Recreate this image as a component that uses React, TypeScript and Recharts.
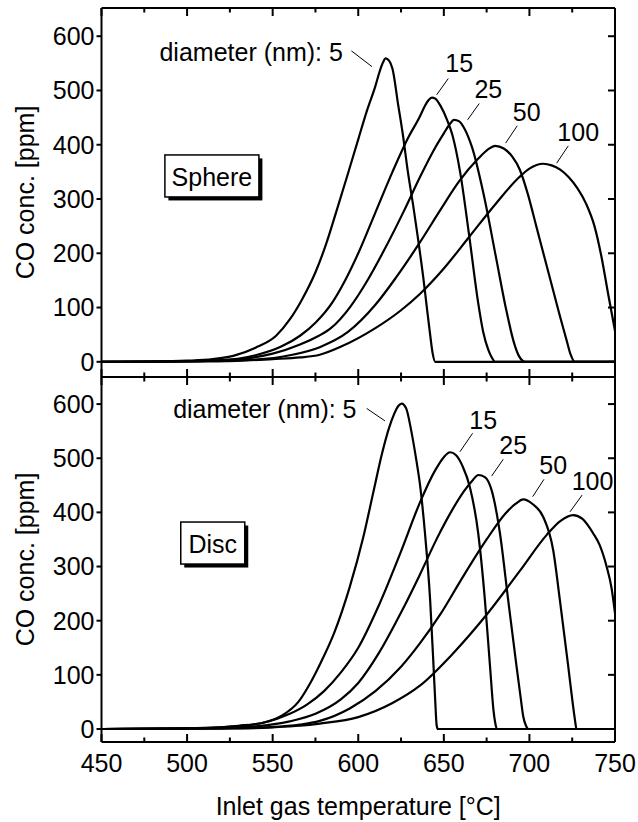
import { LineChart, Line, XAxis, YAxis, ReferenceDot, ReferenceLine } from 'recharts';

const FONT = '"Liberation Sans", Arial, Helvetica, sans-serif';

const xTicks = [450, 475, 500, 525, 550, 575, 600, 625, 650, 675, 700, 725, 750];
const yTicks = [0, 100, 200, 300, 400, 500, 600];
const diameters = ['5', '15', '25', '50', '100'];

const sphere5 = [[450, 0], [480, 0.5], [500, 2], [515, 5], [527, 11], [540, 26], [552, 48], [560, 78], [567, 114], [575, 165], [581, 215], [587, 275], [594, 347], [600, 410], [605, 462], [610, 508], [612.5, 535], [614.5, 552], [616, 559], [618, 555], [620, 540], [623.4, 472], [626, 420], [629, 350], [632, 290], [635, 225], [638, 155], [640, 102], [642, 50], [643.5, 15], [645, 0], [750, 0]];
const sphere15 = [[450, 0], [490, 0.5], [520, 3], [540, 12], [555, 28], [566, 48], [575, 72], [585, 110], [592, 148], [600, 200], [610, 275], [620, 350], [629, 412], [636, 452], [639, 472], [641, 482], [643, 487], [645, 485], [648, 472], [652, 445], [655, 418], [659.5, 350], [665, 228], [670, 110], [673, 55], [676, 22], [678, 8], [680, 0], [750, 0]];
const sphere25 = [[450, 0], [500, 1], [530, 5], [550, 15], [566, 32], [577, 48], [584, 62], [595, 100], [605, 148], [615, 205], [627, 280], [636, 340], [645, 395], [650, 421], [653, 436], [656, 446], [659, 443], [662, 430], [666.5, 395], [673.5, 305], [680.5, 192], [686.5, 95], [691, 35], [694, 10], [696, 2], [697.5, 0], [750, 0]];
const sphere50 = [[450, 0], [510, 1], [540, 4], [560, 12], [577.5, 27], [594, 55], [610, 105], [622, 155], [636, 220], [648, 280], [659, 333], [670, 374], [676, 392], [680, 398], [685, 393], [690, 378], [694.4, 354], [699, 310], [704, 250], [709, 190], [714, 130], [718, 82], [721.7, 40], [724, 14], [726.5, 0], [750, 0]];
const sphere100 = [[450, 0], [520, 1], [550, 5], [566, 8], [577.5, 13], [590, 28], [610, 62], [625, 95], [636, 125], [650, 172], [665, 231], [680, 290], [694, 340], [700, 356], [708, 365], [713, 362], [718, 354], [723, 340], [728, 320], [733, 292], [738, 250], [742, 195], [746, 125], [750, 57]];

const disc5 = [[450, 0], [490, 0.5], [510, 2], [530, 6], [545, 12], [555, 24], [565, 50], [572, 85], [578, 122], [586, 178], [595, 262], [603, 355], [609, 440], [614, 510], [618, 556], [621, 582], [623.5, 597], [625.4, 601], [628, 592], [631, 550], [634, 495], [636, 453], [639, 361], [642, 238], [644, 115], [645, 50], [645.8, 7], [646.5, 0], [750, 0]];
const disc15 = [[450, 0], [500, 1], [520, 3], [545, 12], [560, 28], [570, 45], [580, 70], [590, 105], [600, 150], [612, 228], [625, 328], [636, 418], [645, 478], [650, 502], [653.6, 511], [657, 506], [661, 485], [665.2, 447], [670.1, 361], [674, 238], [677, 115], [679, 35], [680, 12], [681, 0], [750, 0]];
const disc25 = [[450, 0], [510, 1], [540, 5], [560, 14], [575, 28], [590, 55], [600, 85], [612, 140], [625, 215], [636, 285], [646, 352], [655, 405], [662, 440], [667, 460], [670.1, 469], [674, 465], [677.9, 441], [682.8, 361], [687.6, 238], [692.5, 115], [695, 55], [696.4, 23], [698, 6], [699.5, 0], [750, 0]];
const disc50 = [[450, 0], [520, 1], [545, 3], [566, 8], [577.5, 15], [595, 38], [610, 70], [625, 115], [636, 158], [648, 212], [660, 275], [675, 350], [686, 398], [692, 416], [696.4, 424], [702, 415], [708, 392], [713.9, 330], [717.8, 238], [722.7, 115], [725, 55], [726.6, 17], [727.5, 0], [750, 0]];
const disc100 = [[450, 0], [530, 1], [550, 3], [566, 6], [577.5, 10], [600, 22], [620, 48], [636, 80], [655.5, 140], [674.7, 210], [694.4, 292], [710, 358], [718, 384], [725.6, 395], [731, 388], [737.3, 361], [741, 340], [745.1, 300], [748, 260], [750, 214]];

const sphereCurves = [sphere5, sphere15, sphere25, sphere50, sphere100];
const discCurves = [disc5, disc15, disc25, disc50, disc100];

// label anchor (data coords) and leader line end points
const sphereNotes = [
  { at: [591, 571], lead: [[596, 573], [608, 544]] },
  { at: [659, 550], lead: [[652.6, 522], [645.8, 492]] },
  { at: [676, 502], lead: [[670.7, 476], [663.9, 446]] },
  { at: [698.4, 461], lead: [[692.9, 435], [686.1, 403]] },
  { at: [728.5, 424], lead: [[722.7, 398], [715.9, 366]] },
];
const discNotes = [
  { at: [599, 590], lead: [[604.9, 592], [615.6, 569]] },
  { at: [673, 570], lead: [[666.8, 546], [659.4, 512]] },
  { at: [690.5, 524], lead: [[684.7, 498], [677.9, 467]] },
  { at: [713.9, 487], lead: [[708.5, 461], [701.9, 429]] },
  { at: [736.9, 458], lead: [[730.8, 432], [723.7, 401]] },
];

const toPts = (arr: number[][]) => arr.map(([t, v]) => ({ t, v }));

function XTick(props: any) {
  const { x, y, payload, dir, showLabel } = props;
  const major = payload.value % 50 === 0;
  const len = major ? 8 : 4.5;
  return (
    <g>
      <line x1={x} x2={x} y1={y} y2={y + dir * len} stroke="#000" strokeWidth={2} />
      {showLabel && major && (
        <text x={x} y={y + 30} textAnchor="middle" fontSize={25} fontFamily={FONT} fill="#000">
          {payload.value}
        </text>
      )}
    </g>
  );
}

function RTick(props: any) {
  const { x, y } = props;
  return <line x1={x} x2={x - 7} y1={y} y2={y} stroke="#000" strokeWidth={2} />;
}

function YTitle(props: any) {
  const vb = props.viewBox || { y: 8, height: 369 };
  const cy = vb.y + vb.height / 2;
  return (
    <text transform={`translate(25 ${cy}) rotate(-90)`} textAnchor="middle" dominantBaseline="central" fontSize={25} fontFamily={FONT} fill="#000">
      CO conc. [ppm]
    </text>
  );
}

function XTitle(props: any) {
  const vb = props.viewBox || { x: 101.5, y: 742, width: 513.5 };
  return (
    <text x={vb.x + vb.width / 2} y={vb.y + 73} textAnchor="middle" fontSize={25} fontFamily={FONT} fill="#000">
      Inlet gas temperature [°C]
    </text>
  );
}

function Tag(props: any) {
  const { cx, cy, w, h, text } = props;
  return (
    <g>
      <rect x={cx - w / 2 + 3.5} y={cy - h / 2 + 3.5} width={w} height={h} fill="#000" />
      <rect x={cx - w / 2} y={cy - h / 2} width={w} height={h} fill="#fff" stroke="#000" strokeWidth={1.5} />
      <text x={cx} y={cy + 1} textAnchor="middle" dominantBaseline="central" fontSize={25} fontFamily={FONT} fill="#000">
        {text}
      </text>
    </g>
  );
}

function NoteText(props: any) {
  const { cx, cy, text, anchor } = props;
  return (
    <text x={cx} y={cy} textAnchor={anchor} dominantBaseline="central" fontSize={25} fontFamily={FONT} fill="#000">
      {text}
    </text>
  );
}

function Panel({ curves, notes, tag, tagAt, tagW, domain, showX, height, margin }: any) {
  return (
    <LineChart width={638} height={height} margin={margin}>
      <XAxis
        xAxisId="b"
        dataKey="t"
        type="number"
        domain={[450, 750]}
        ticks={xTicks}
        interval={0}
        height={1}
        tickSize={0}
        tickMargin={0}
        tickLine={false}
        tick={<XTick dir={-1} showLabel={showX} />}
        axisLine={{ stroke: '#000', strokeWidth: 2 }}
        allowDataOverflow
        label={showX ? <XTitle /> : undefined}
      />
      <XAxis
        xAxisId="t"
        orientation="top"
        dataKey="t"
        type="number"
        domain={[450, 750]}
        ticks={xTicks}
        interval={0}
        height={1}
        tickSize={0}
        tickMargin={0}
        tickLine={false}
        tick={<XTick dir={1} showLabel={false} />}
        axisLine={{ stroke: '#000', strokeWidth: 2 }}
        allowDataOverflow
      />
      <YAxis
        yAxisId="l"
        type="number"
        domain={domain}
        ticks={yTicks}
        interval={0}
        width={60}
        tickSize={5}
        tickMargin={2}
        tick={{ fill: '#000', fontSize: 25, fontFamily: FONT }}
        tickLine={{ stroke: '#000', strokeWidth: 2 }}
        axisLine={{ stroke: '#000', strokeWidth: 2 }}
        allowDataOverflow
        label={<YTitle />}
      />
      <YAxis
        yAxisId="r"
        orientation="right"
        type="number"
        domain={domain}
        ticks={yTicks}
        interval={0}
        width={1}
        tickSize={0}
        tickMargin={0}
        tickLine={false}
        tick={<RTick />}
        axisLine={{ stroke: '#000', strokeWidth: 2 }}
        allowDataOverflow
      />
      {curves.map((c: number[][], i: number) => (
        <Line
          key={diameters[i]}
          xAxisId="b"
          yAxisId="l"
          data={toPts(c)}
          dataKey="v"
          type="monotone"
          stroke="#000"
          strokeWidth={2.2}
          dot={false}
          activeDot={false}
          isAnimationActive={false}
        />
      ))}
      {notes.map((n: any, i: number) => (
        <ReferenceLine
          key={'l' + i}
          xAxisId="b"
          yAxisId="l"
          segment={[{ x: n.lead[0][0], y: n.lead[0][1] }, { x: n.lead[1][0], y: n.lead[1][1] }]}
          stroke="#000"
          strokeWidth={1}
        />
      ))}
      {notes.map((n: any, i: number) => (
        <ReferenceDot
          key={'t' + i}
          xAxisId="b"
          yAxisId="l"
          x={n.at[0]}
          y={n.at[1]}
          r={0}
          shape={(p: any) => (
            <NoteText cx={p.cx} cy={p.cy} anchor={i === 0 ? 'end' : 'middle'} text={i === 0 ? 'diameter (nm): ' + diameters[0] : diameters[i]} />
          )}
        />
      ))}
      <ReferenceDot
        xAxisId="b"
        yAxisId="l"
        x={tagAt[0]}
        y={tagAt[1]}
        r={0}
        shape={(p: any) => <Tag cx={p.cx} cy={p.cy} w={tagW} h={42} text={tag} />}
      />
    </LineChart>
  );
}

export default function App() {
  return (
    <div style={{ position: 'absolute', left: 0, top: 0, width: 638, height: 822, background: '#fff' }}>
      <div style={{ position: 'absolute', left: 0, top: 0 }}>
        <Panel
          curves={sphereCurves}
          notes={sphereNotes}
          tag="Sphere"
          tagAt={[514.5, 342.5]}
          tagW={94}
          domain={[-28, 652]}
          showX={false}
          height={380}
          margin={{ top: 7, right: 22, bottom: 2, left: 41.5 }}
        />
      </div>
      <div style={{ position: 'absolute', left: 0, top: 360 }}>
        <Panel
          curves={discCurves}
          notes={discNotes}
          tag="Disc"
          tagAt={[515, 343.4]}
          tagW={64}
          domain={[-24, 650]}
          showX={true}
          height={462}
          margin={{ top: 16, right: 22, bottom: 79, left: 41.5 }}
        />
      </div>
    </div>
  );
}
